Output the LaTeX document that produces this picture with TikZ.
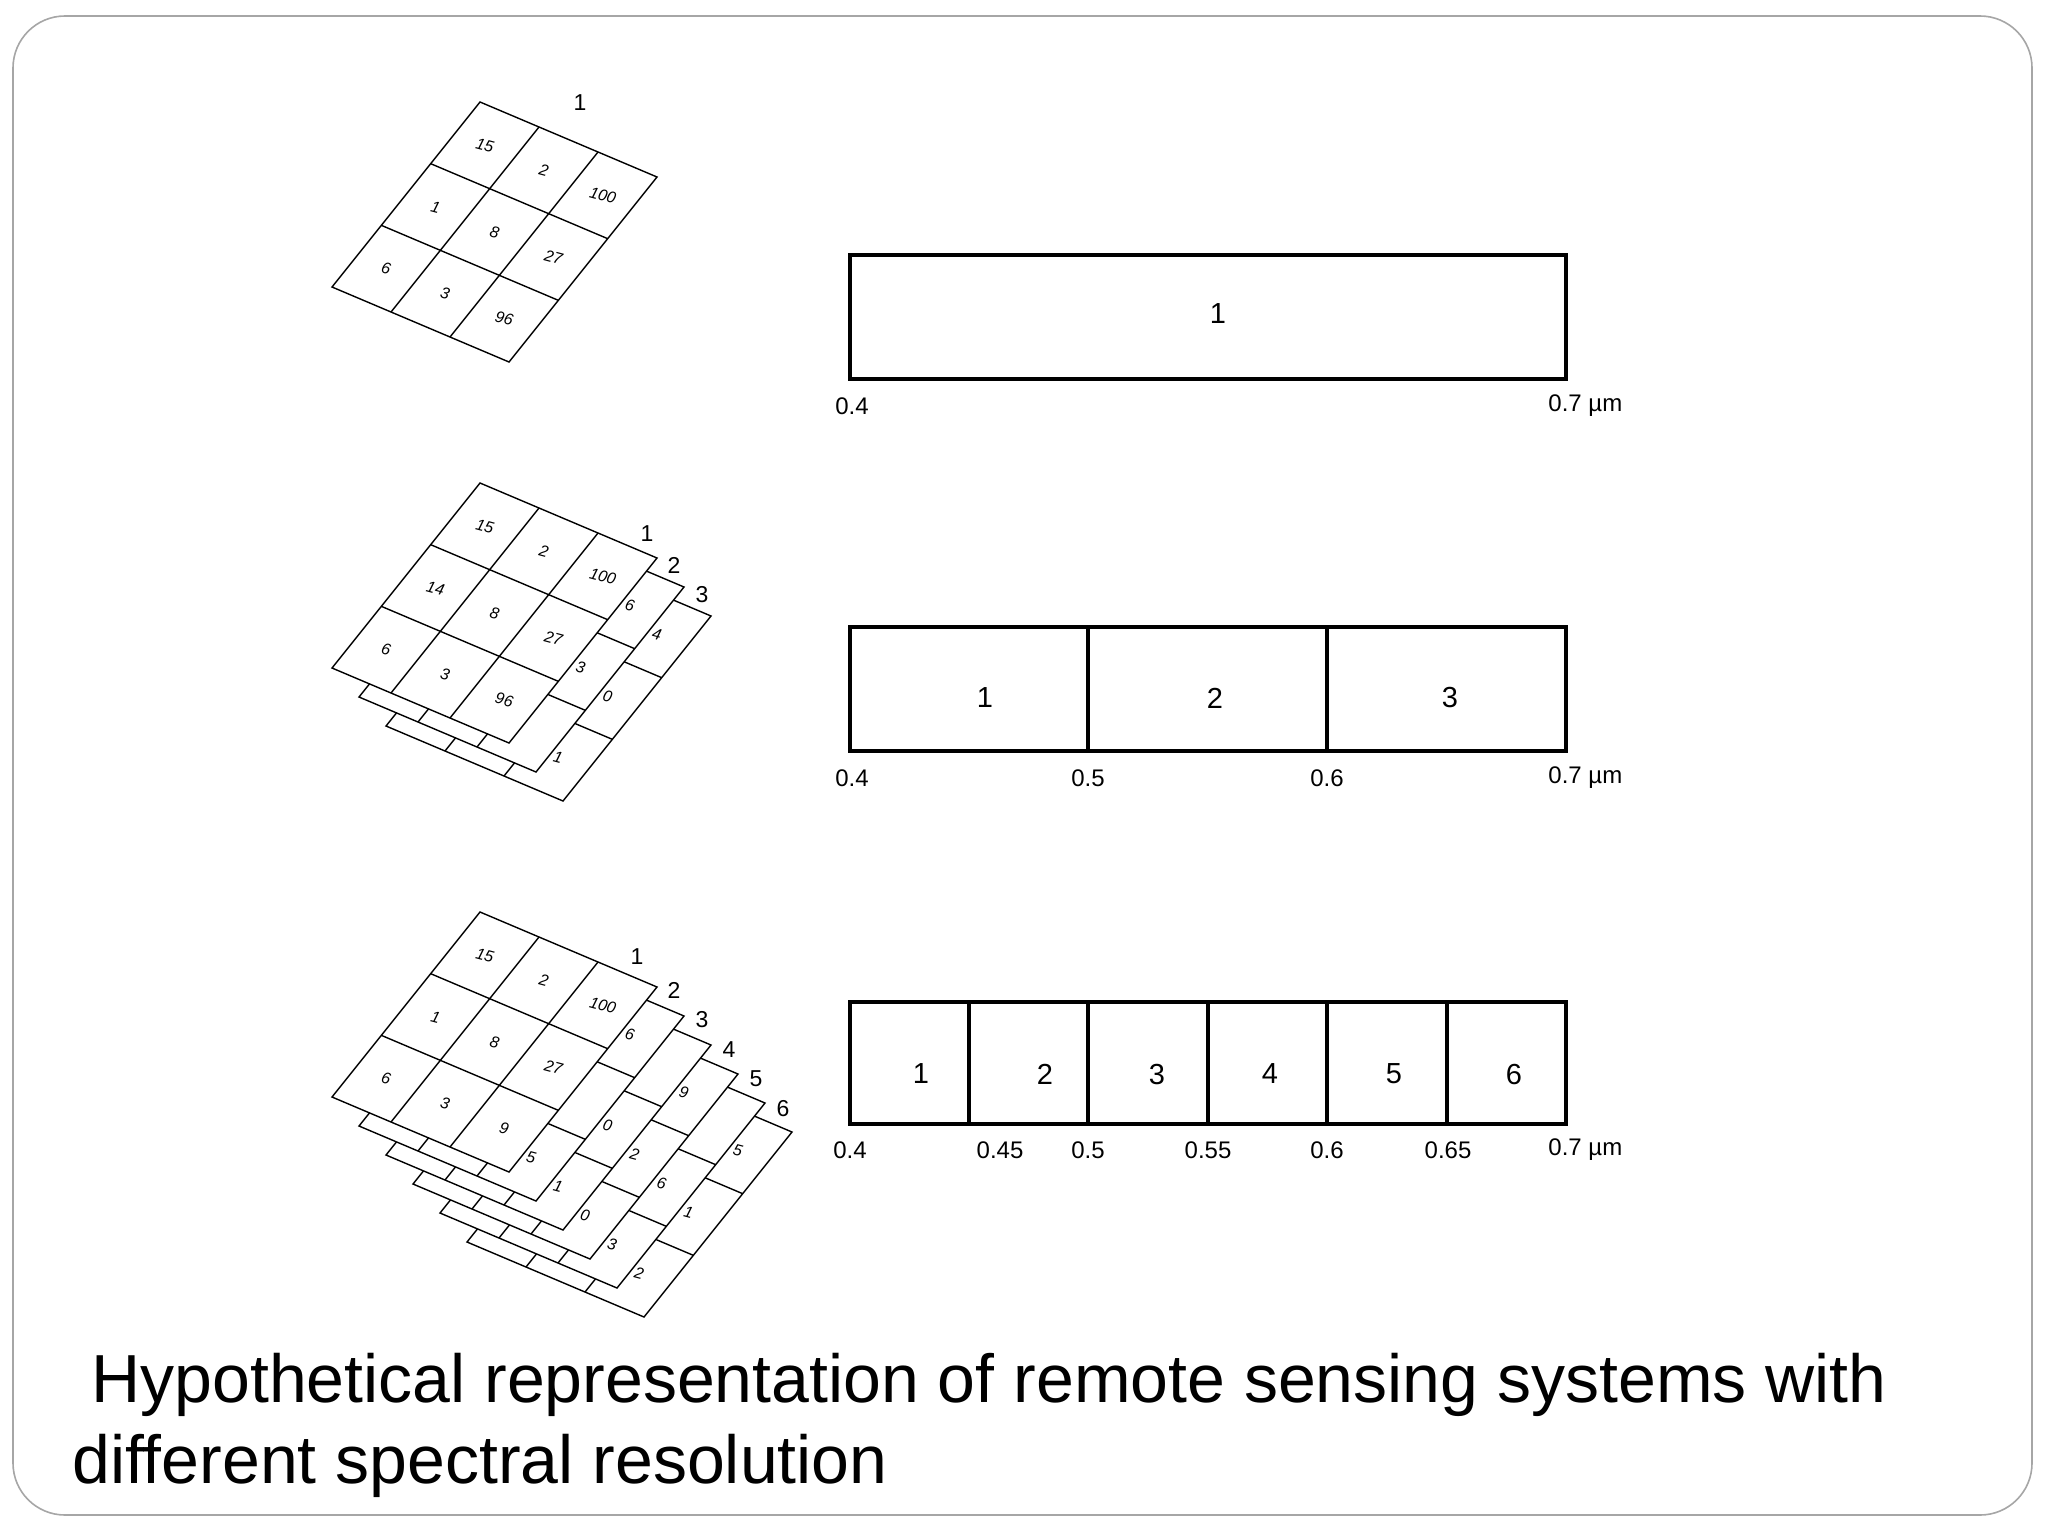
\documentclass[tikz,border=0pt]{standalone}
\usepackage{fontspec}
\setmainfont{Liberation Sans}
\begin{document}
\begin{tikzpicture}[x=0.5pt,y=-0.5pt,
  cellnum/.style={font=\fontsize{8}{9}\selectfont\itshape, rotate=-15, inner sep=0},
  laylbl/.style={font=\fontsize{11.5}{13}\selectfont, inner sep=0},
  bandnum/.style={font=\fontsize{14.5}{16}\selectfont, inner sep=0},
  axlbl/.style={font=\fontsize{12}{14}\selectfont, inner sep=0},
  band/.style={line width=1.6pt},
  grid/.style={line width=0.7pt, fill=white}]
\useasboundingbox (0,0) rectangle (2048,1536);
\draw[gray!70, line width=0.8pt, rounded corners=26pt] (13,16) rectangle (2032,1515);
\newcommand\mylay[2]{%
  \filldraw[grid] (#1,#2) -- ++(177,75) -- ++(-148,185) -- ++(-177,-75) -- cycle;
  \draw[line width=0.7pt] (#1+59,#2+25) -- ++(-148,185);
  \draw[line width=0.7pt] (#1+118,#2+50) -- ++(-148,185);
  \draw[line width=0.7pt] (#1-49.33,#2+61.67) -- ++(177,75);
  \draw[line width=0.7pt] (#1-98.67,#2+123.33) -- ++(177,75);}
\newcommand\mycell[5]{%
  \node[cellnum] at ({#1+(#3+0.5)*59-(#4+0.5)*49.33},{#2+(#3+0.5)*25+(#4+0.5)*61.67}) {#5};}
\newcommand\mynums[2]{%
  \mycell{#1}{#2}{0}{0}{15}\mycell{#1}{#2}{1}{0}{2}\mycell{#1}{#2}{2}{0}{100}}
% ---------- grid 1 ----------
\mylay{480}{102}
\mynums{480}{102}
\mycell{480}{102}{0}{1}{1}\mycell{480}{102}{1}{1}{8}\mycell{480}{102}{2}{1}{27}
\mycell{480}{102}{0}{2}{6}\mycell{480}{102}{1}{2}{3}\mycell{480}{102}{2}{2}{96}
\node[laylbl] (g1) at (580,103) {1};
% ---------- grid 2 (3 layers) ----------
\mylay{534}{541}
\mycell{534}{541}{2}{0}{4}\mycell{534}{541}{2}{1}{0}\mycell{534}{541}{2}{2}{1}
\mylay{507}{512}
\mycell{507}{512}{2}{0}{6}\mycell{507}{512}{2}{1}{3}
\mylay{480}{483}
\mynums{480}{483}
\mycell{480}{483}{0}{1}{14}\mycell{480}{483}{1}{1}{8}\mycell{480}{483}{2}{1}{27}
\mycell{480}{483}{0}{2}{6}\mycell{480}{483}{1}{2}{3}\mycell{480}{483}{2}{2}{96}
\node[laylbl] (s2a) at (647,534) {1};
\node[laylbl] (s2b) at (674,565) {2};
\node[laylbl] (s2c) at (702,595) {3};
% ---------- grid 3 (6 layers) ----------
\mylay{615}{1057}
\mycell{615}{1057}{2}{0}{5}\mycell{615}{1057}{2}{1}{1}\mycell{615}{1057}{2}{2}{2}
\mylay{588}{1028}
\mycell{588}{1028}{2}{1}{6}\mycell{588}{1028}{2}{2}{3}
\mylay{561}{999}
\mycell{561}{999}{2}{0}{9}\mycell{561}{999}{2}{1}{2}\mycell{561}{999}{2}{2}{0}
\mylay{534}{970}
\mycell{534}{970}{2}{1}{0}\mycell{534}{970}{2}{2}{1}
\mylay{507}{941}
\mycell{507}{941}{2}{0}{6}\mycell{507}{941}{2}{2}{5}
\mylay{480}{912}
\mynums{480}{912}
\mycell{480}{912}{0}{1}{1}\mycell{480}{912}{1}{1}{8}\mycell{480}{912}{2}{1}{27}
\mycell{480}{912}{0}{2}{6}\mycell{480}{912}{1}{2}{3}\mycell{480}{912}{2}{2}{9}
\node[laylbl] (s3a) at (637,957) {1};
\node[laylbl] (s3b) at (674,990) {2};
\node[laylbl] (s3c) at (702,1020) {3};
\node[laylbl] (s3d) at (729,1050) {4};
\node[laylbl] (s3e) at (756,1079) {5};
\node[laylbl] (s3f) at (783,1109) {6};
% ---------- bands ----------
\draw[band] (850,255) rectangle (1566,379);
\node[bandnum] (b1) at (1218,314) {1};
\node[axlbl] at (852,406) {0.4};
\node[axlbl, anchor=west] at (1548,406) {0.7 \textmu m};
\draw[band] (850,627) rectangle (1566,751);
\draw[band] (1088,627) -- (1088,751);
\draw[band] (1327,627) -- (1327,751);
\node[bandnum] (b21) at (985,698) {1};
\node[bandnum] (b22) at (1215,698) {2};
\node[bandnum] (b23) at (1450,698) {3};
\node[axlbl] at (852,778) {0.4};
\node[axlbl] at (1088,778) {0.5};
\node[axlbl] at (1327,778) {0.6};
\node[axlbl, anchor=west] at (1548,778) {0.7 \textmu m};
\draw[band] (850,1002) rectangle (1566,1124);
\foreach \xx in {969,1088,1208,1327,1447} \draw[band] (\xx,1002) -- (\xx,1124);
\node[bandnum] (b31) at (921,1074) {1};
\node[bandnum] (b32) at (1045,1074) {2};
\node[bandnum] (b33) at (1157,1074) {3};
\node[bandnum] (b34) at (1270,1074) {4};
\node[bandnum] (b35) at (1394,1074) {5};
\node[bandnum] (b36) at (1514,1074) {6};
\node[axlbl] at (850,1150) {0.4};
\node[axlbl] at (1000,1150) {0.45};
\node[axlbl] at (1088,1150) {0.5};
\node[axlbl] at (1208,1150) {0.55};
\node[axlbl] at (1327,1150) {0.6};
\node[axlbl] at (1448,1150) {0.65};
\node[axlbl, anchor=west] at (1548,1150) {0.7 \textmu m};
% ---------- caption ----------
\node[anchor=base west, inner sep=0, font=\fontsize{34}{40}\selectfont] (cap1) at (91,1402) {Hypothetical representation of remote sensing systems with};
\node[anchor=base west, inner sep=0, font=\fontsize{34}{40}\selectfont] (cap2) at (72,1483) {different spectral resolution};
\end{tikzpicture}
\end{document}
